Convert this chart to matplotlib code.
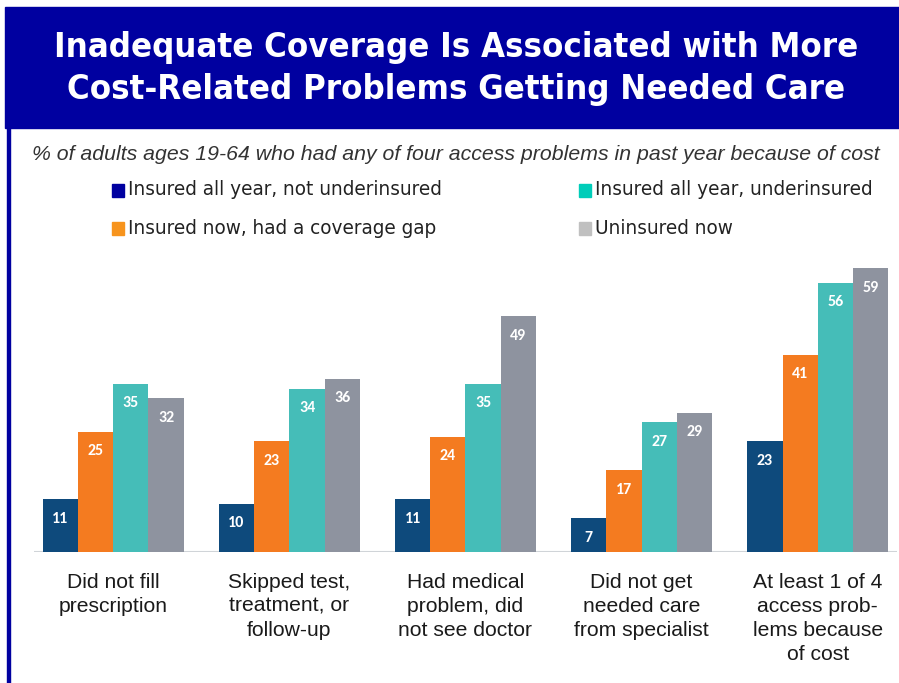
import matplotlib
matplotlib.use("Agg")
import matplotlib.pyplot as plt
from matplotlib.patches import Rectangle
import numpy as np

categories = ["Did not fill\nprescription",
              "Skipped test,\ntreatment, or\nfollow-up",
              "Had medical\nproblem, did\nnot see doctor",
              "Did not get\nneeded care\nfrom specialist",
              "At least 1 of 4\naccess prob-\nlems because\nof cost"]
series_names = ["Insured all year, not underinsured",
                "Insured now, had a coverage gap",
                "Insured all year, underinsured",
                "Uninsured now"]
not_underinsured = [11, 10, 11, 7, 23]
coverage_gap = [25, 23, 24, 17, 41]
underinsured = [35, 34, 35, 27, 56]
uninsured = [32, 36, 49, 29, 59]
series = [not_underinsured, coverage_gap, underinsured, uninsured]
bar_colors = ["#0E4A7C", "#F47B20", "#45BDB8", "#8E939F"]
legend_colors = ["#0000A0", "#F7941D", "#00CDB9", "#C0C0C0"]
title_lines = ["Inadequate Coverage Is Associated with More",
               "Cost-Related Problems Getting Needed Care"]
subtitle = "% of adults ages 19-64 who had any of four access problems in past year because of cost"

W, H = 899, 683
fig = plt.figure(figsize=(W/100, H/100), dpi=100)
fig.patch.set_facecolor("white")
renderer = fig.canvas.get_renderer()

def fx(px): return px / W
def fy(py): return 1 - py / H

def fit(t, target_px):
    bb = t.get_window_extent(renderer=renderer)
    t.set_fontsize(t.get_fontsize() * target_px / bb.width)

# banner
fig.patches.append(Rectangle((fx(5), fy(128)), fx(899-5), 121/H,
                             transform=fig.transFigure, color="#0000A0", zorder=0))
# left vertical line
fig.patches.append(Rectangle((fx(7), 0), fx(3), fy(128),
                             transform=fig.transFigure, color="#0000A0", zorder=0))

title_kw = dict(family=["DejaVu Sans"], stretch="condensed", weight="bold",
                color="white", ha="center", va="center", fontsize=26)
t1 = fig.text(fx(456), fy(47), title_lines[0], **title_kw)
fit(t1, 803)
title_kw["fontsize"] = t1.get_fontsize()
t2 = fig.text(fx(456), fy(90), title_lines[1], **title_kw)

st = fig.text(fx(456), fy(155), subtitle, family=["Liberation Sans", "DejaVu Sans"],
              style="italic", fontsize=14, color="#333333", ha="center", va="center")
fit(st, 847)

# legend
leg_pos = [(112, 190), (112, 228), (579, 190), (579, 228)]
legend_texts = []
for (x, y), name, c in zip(leg_pos, series_names, legend_colors):
    fig.patches.append(Rectangle((fx(x), fy(y + 7)), fx(12), 13/H,
                                 transform=fig.transFigure, color=c))
    legend_texts.append(fig.text(fx(x + 16), fy(y), name, family=["DejaVu Sans"],
                                 fontsize=13.5, color="#222222", ha="left", va="center"))
fit(legend_texts[0], 315)
for t in legend_texts[1:]:
    t.set_fontsize(legend_texts[0].get_fontsize())

# axes
ax = fig.add_axes([34/W, 131/H, 863/W, 298/H])
x = np.arange(len(categories))
bw = 0.2
for i, (vals, c) in enumerate(zip(series, bar_colors)):
    pos = x - 0.3 + i * bw
    bars = ax.bar(pos, vals, width=bw, color=c, zorder=2)
    for b, v in zip(bars, vals):
        ax.annotate(str(v), (b.get_x() + b.get_width()/2, v), xytext=(0, -14),
                    textcoords="offset points", ha="center", va="center",
                    color="white", fontsize=11.5, fontweight="bold",
                    family=["Carlito", "DejaVu Sans"])
ax.set_xlim(-0.45, 4.45)
ax.set_ylim(0, 62)
ax.axhline(0, color="#D0D4D8", lw=1.5, zorder=1)
for s in ax.spines.values():
    s.set_visible(False)
ax.set_yticks([])
ax.set_xticks(x)
ax.set_xticklabels(categories, family=["Liberation Sans", "DejaVu Sans"], fontsize=15.2,
                   color="#1a1a1a", linespacing=1.34, va="top")
ax.tick_params(axis="x", length=0, pad=15)

fig.savefig("out.png", dpi=100)
